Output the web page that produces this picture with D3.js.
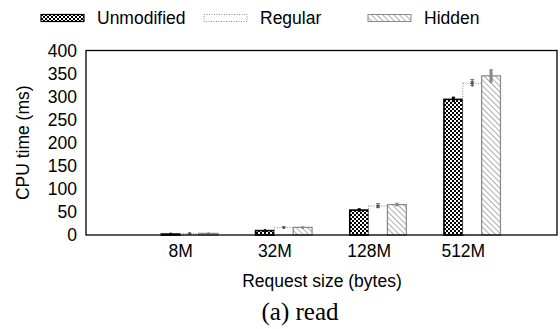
<!DOCTYPE html>
<html>
<head>
<meta charset="utf-8">
<script src="https://cdn.jsdelivr.net/npm/d3@7"></script>
<style>
  body { margin: 0; background: #fff; }
  #chart { width: 560px; height: 329px; }
</style>
</head>
<body>
<div id="chart"></div>
<script>
const sizes = ["8M", "32M", "128M", "512M"];
const seriesNames = ["Unmodified", "Regular", "Hidden"];
const unmodified = [2, 9.5, 54, 294];
const regular = [3, 16, 63, 329];
const hidden = [3.5, 16.5, 66, 345];
const unmodifiedErr = [0.6, 1.2, 4, 6];
const regularErr = [0.8, 1.5, 5, 8];
const hiddenErr = [0.8, 1.5, 4, 15];
const yTicks = [0, 50, 100, 150, 200, 250, 300, 350, 400];

function renderChart(selector = "#chart") {
    const container = d3.select(selector);
    container.html("");

    const width = 560;
    const height = 329;
    const margin = { top: 50.5, right: 3, bottom: 94, left: 86 };
    const font = "'Liberation Sans', Arial, sans-serif";
    const fs = 17.5;

    const svg = container.append("svg")
        .attr("width", width)
        .attr("height", height)
        .style("display", "block");

    const defs = svg.append("defs");

    // checkerboard for Unmodified
    const check = defs.append("pattern")
        .attr("id", "pat-check")
        .attr("patternUnits", "userSpaceOnUse")
        .attr("width", 4).attr("height", 4);
    check.append("rect").attr("width", 4).attr("height", 4).attr("fill", "#fff");
    check.append("rect").attr("width", 2).attr("height", 2).attr("fill", "#000");
    check.append("rect").attr("x", 2).attr("y", 2).attr("width", 2).attr("height", 2).attr("fill", "#000");

    // diagonal hatch for Hidden
    const hatch = defs.append("pattern")
        .attr("id", "pat-hatch")
        .attr("patternUnits", "userSpaceOnUse")
        .attr("width", 4).attr("height", 4)
        .attr("patternTransform", "rotate(-45)");
    hatch.append("rect").attr("width", 4).attr("height", 4).attr("fill", "#fff");
    hatch.append("line").attr("x1", 0).attr("y1", 0).attr("x2", 0).attr("y2", 4)
        .attr("stroke", "#777").attr("stroke-width", 1.2);

    const styles = [
        { fill: "url(#pat-check)", stroke: "#000", sw: 1.6, dash: null, err: "#000", errW: 3 },
        { fill: "#fff", stroke: "#888", sw: 1, dash: "1,1.5", err: "#555", errW: 1 },
        { fill: "url(#pat-hatch)", stroke: "#888", sw: 1.2, dash: null, err: "#888", errW: 3 }
    ];

    const x = d3.scaleLinear()
        .domain([-1, 4])
        .range([margin.left, width - margin.right]);

    const y = d3.scaleLinear()
        .domain([0, 400])
        .range([height - margin.bottom, margin.top]);

    const barW = x(0.2) - x(0);

    const rows = [];
    [unmodified, regular, hidden].forEach((vals, k) => {
        const errs = [unmodifiedErr, regularErr, hiddenErr][k];
        vals.forEach((v, i) => rows.push({ i, k, v, e: errs[i] }));
    });

    const bars = svg.append("g");
    bars.selectAll("rect")
        .data(rows)
        .join("rect")
        .attr("x", d => x(d.i + (d.k - 1) * 0.2 + 0.1) - barW / 2)
        .attr("width", barW)
        .attr("y", d => y(d.v))
        .attr("height", d => y(0) - y(d.v))
        .attr("fill", d => styles[d.k].fill)
        .attr("stroke", d => styles[d.k].stroke)
        .attr("stroke-width", d => styles[d.k].sw)
        .attr("stroke-dasharray", d => styles[d.k].dash);

    // error bars
    const errG = svg.append("g");
    errG.selectAll("line.err")
        .data(rows)
        .join("line")
        .attr("class", "err")
        .attr("x1", d => x(d.i + (d.k - 1) * 0.2 + 0.1))
        .attr("x2", d => x(d.i + (d.k - 1) * 0.2 + 0.1))
        .attr("y1", d => y(d.v - d.e))
        .attr("y2", d => y(d.v + d.e))
        .attr("stroke", d => styles[d.k].err)
        .attr("stroke-width", d => styles[d.k].errW);
    errG.selectAll("circle")
        .data(rows)
        .join("circle")
        .attr("cx", d => x(d.i + (d.k - 1) * 0.2 + 0.1))
        .attr("cy", d => y(d.v))
        .attr("r", 1.5)
        .attr("fill", d => styles[d.k].err);
    // short horizontal ticks on Regular error bars
    errG.selectAll("path.rtick")
        .data(rows.filter(d => d.k === 1))
        .join("path")
        .attr("class", "rtick")
        .attr("d", d => {
            const cx = x(d.i + 0.1);
            const y0 = y(d.v + d.e), y1 = y(d.v - d.e);
            let p = "";
            for (let yy = y0; yy <= y1; yy += 2) p += `M${cx - 2},${yy}H${cx + 2}`;
            return p;
        })
        .attr("stroke", "#555")
        .attr("stroke-width", 0.8);

    // frame
    svg.append("rect")
        .attr("x", margin.left)
        .attr("y", margin.top)
        .attr("width", width - margin.right - margin.left)
        .attr("height", y(0) - margin.top)
        .attr("fill", "none")
        .attr("stroke", "#000")
        .attr("stroke-width", 1.3);

    // y axis labels
    svg.append("g")
        .attr("transform", `translate(${margin.left},0)`)
        .call(d3.axisLeft(y).tickValues(yTicks).tickSize(0).tickPadding(9))
        .call(g => g.select(".domain").remove())
        .call(g => g.selectAll("text").attr("font-family", font).attr("font-size", fs).attr("fill", "#000"));

    // x axis labels
    svg.append("g")
        .attr("transform", `translate(0,${y(0)})`)
        .call(d3.axisBottom(x).tickValues(d3.range(sizes.length)).tickFormat(i => sizes[i]).tickSize(0).tickPadding(10))
        .call(g => g.select(".domain").remove())
        .call(g => g.selectAll("text").attr("font-family", font).attr("font-size", fs).attr("fill", "#000"));

    svg.append("text")
        .attr("transform", `translate(24,${(y(0) + margin.top) / 2}) rotate(-90)`)
        .attr("text-anchor", "middle")
        .attr("dominant-baseline", "middle")
        .attr("font-family", font)
        .attr("font-size", fs)
        .text("CPU time (ms)");

    svg.append("text")
        .attr("x", 322)
        .attr("y", 287)
        .attr("text-anchor", "middle")
        .attr("font-family", font)
        .attr("font-size", fs)
        .text("Request size (bytes)");

    svg.append("text")
        .attr("x", 300)
        .attr("y", 320)
        .attr("text-anchor", "middle")
        .attr("font-family", "'Liberation Serif', 'Times New Roman', serif")
        .attr("font-size", 25)
        .text("(a) read");

    // legend
    const legendX = [41, 204, 368];
    const legend = svg.append("g");
    seriesNames.forEach((name, k) => {
        const g = legend.append("g").attr("transform", `translate(${legendX[k]},18)`);
        g.append("rect")
            .attr("x", 0).attr("y", -3.5)
            .attr("width", 43).attr("height", 7)
            .attr("fill", styles[k].fill)
            .attr("stroke", styles[k].stroke)
            .attr("stroke-width", k === 0 ? 1.2 : 1)
            .attr("stroke-dasharray", styles[k].dash);
        g.append("text")
            .attr("x", 56).attr("y", 1)
            .attr("dominant-baseline", "middle")
            .attr("font-family", font)
            .attr("font-size", fs)
            .text(name);
    });
}

renderChart();
</script>
</body>
</html>
